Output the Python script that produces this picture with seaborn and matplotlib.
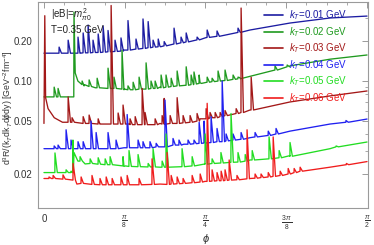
import numpy as np
import pandas as pd
import matplotlib
matplotlib.use("Agg")
import matplotlib.pyplot as plt
import matplotlib.ticker as mticker
import seaborn as sns

# ---------------- data ----------------
labels = ["$k_T$=0.01 GeV", "$k_T$=0.02 GeV", "$k_T$=0.03 GeV",
          "$k_T$=0.04 GeV", "$k_T$=0.05 GeV", "$k_T$=0.06 GeV"]
colors = ["#1c1ca2", "#1f9a1f", "#a31818", "#2020f0", "#22dd22", "#f01c1c"]

# smooth background of each curve (phi, value)
s1_phi = [0, 0.175, 0.389, 0.564, 0.783, 1.002, 1.196, 1.391, 1.571]
s1_val = [0.162, 0.162, 0.171, 0.183, 0.211, 0.242, 0.273, 0.298, 0.308]
s2_phi = [0, 0.145, 0.146, 0.152, 0.165, 0.195, 0.25, 0.389, 0.564, 0.759, 0.953, 1.196, 1.391, 1.571]
s2_val = [0.076, 0.076, 0.33, 0.115, 0.100, 0.092, 0.089, 0.086, 0.090, 0.097, 0.106, 0.130, 0.146, 0.157]
s3_phi = [0, 0.004, 0.008, 0.02, 0.05, 0.09, 0.272, 0.418, 0.564, 0.759, 1.002, 1.196, 1.391, 1.571]
s3_val = [0.048, 0.31, 0.075, 0.062, 0.053, 0.049, 0.0475, 0.0475, 0.048, 0.052, 0.0606, 0.0696, 0.0773, 0.0842]
s4_phi = [0, 0.389, 0.564, 0.68, 0.783, 1.002, 1.196, 1.391, 1.571]
s4_val = [0.031, 0.0315, 0.032, 0.0335, 0.0345, 0.0375, 0.042, 0.0475, 0.0518]
s5_phi = [0, 0.140, 0.141, 0.146, 0.165, 0.20, 0.389, 0.564, 0.783, 1.002, 1.196, 1.391, 1.571]
s5_val = [0.0205, 0.0205, 0.036, 0.029, 0.025, 0.0238, 0.0228, 0.0225, 0.0238, 0.0255, 0.0275, 0.031, 0.0348]
s6_phi = [0, 0.141, 0.16, 0.389, 0.564, 0.783, 1.002, 1.196, 1.391, 1.571]
s6_val = [0.0185, 0.018, 0.0168, 0.0166, 0.0168, 0.0176, 0.0185, 0.0203, 0.0225, 0.0248]

# resonance spikes: position, local base, peak
k1_phi = [0.073, 0.117, 0.165, 0.190, 0.214, 0.238, 0.263, 0.287, 0.311, 0.345, 0.374, 0.408, 0.447, 0.481, 0.506, 0.530, 0.555, 0.584, 0.632, 0.666, 0.691, 0.744, 0.793, 0.841, 0.943]
k1_base = [0.162, 0.162, 0.162, 0.163, 0.163, 0.164, 0.164, 0.165, 0.166, 0.167, 0.168, 0.171, 0.174, 0.176, 0.178, 0.180, 0.181, 0.184, 0.190, 0.194, 0.197, 0.204, 0.213, 0.217, 0.232]
k1_peak = [0.180, 0.203, 0.214, 0.230, 0.264, 0.203, 0.226, 0.259, 0.240, 0.203, 0.211, 0.285, 0.207, 0.293, 0.280, 0.203, 0.207, 0.198, 0.250, 0.214, 0.230, 0.214, 0.242, 0.238, 0.250]

k2_phi = [0.049, 0.068, 0.185, 0.219, 0.258, 0.311, 0.340, 0.379, 0.408, 0.433, 0.462, 0.496, 0.520, 0.540, 0.569, 0.593, 0.618, 0.647, 0.691, 0.715, 0.729, 0.754, 0.793, 0.817, 0.846, 0.880, 0.919, 0.943, 1.123, 1.182]
k2_base = [0.076, 0.076, 0.094, 0.091, 0.089, 0.088, 0.088, 0.087, 0.086, 0.086, 0.087, 0.087, 0.088, 0.088, 0.089, 0.090, 0.091, 0.092, 0.093, 0.094, 0.095, 0.096, 0.098, 0.099, 0.100, 0.101, 0.103, 0.104, 0.121, 0.128]
k2_peak = [0.090, 0.088, 0.100, 0.102, 0.105, 0.125, 0.107, 0.170, 0.092, 0.098, 0.107, 0.137, 0.100, 0.100, 0.111, 0.111, 0.105, 0.119, 0.128, 0.111, 0.117, 0.111, 0.107, 0.105, 0.119, 0.121, 0.111, 0.107, 0.130, 0.132]

k3_phi = [0.117, 0.136, 0.190, 0.219, 0.263, 0.326, 0.360, 0.384, 0.418, 0.443, 0.477, 0.491, 0.540, 0.574, 0.584, 0.613, 0.647, 0.676, 0.710, 0.744, 0.788, 0.807, 0.832, 0.856, 0.880, 0.934, 0.958, 1.007]
k3_base = [0.049, 0.049, 0.048, 0.048, 0.0475, 0.0475, 0.0475, 0.0475, 0.047, 0.047, 0.047, 0.047, 0.047, 0.0475, 0.0475, 0.048, 0.048, 0.0485, 0.049, 0.050, 0.052, 0.053, 0.053, 0.054, 0.055, 0.057, 0.058, 0.0606]
k3_peak = [0.076, 0.053, 0.054, 0.0555, 0.052, 0.37, 0.0575, 0.066, 0.052, 0.054, 0.088, 0.058, 0.052, 0.055, 0.074, 0.055, 0.075, 0.055, 0.055, 0.057, 0.062, 0.058, 0.058, 0.058, 0.060, 0.062, 0.354, 0.107]

k4_phi = [0.049, 0.068, 0.107, 0.131, 0.165, 0.190, 0.228, 0.253, 0.311, 0.350, 0.404, 0.457, 0.481, 0.515, 0.545, 0.588, 0.627, 0.656, 0.700, 0.729, 0.754, 0.778, 0.812, 0.841, 0.866, 0.885, 0.919, 0.958, 1.026, 1.090, 1.128, 1.468]
k4_base = [0.031, 0.031, 0.031, 0.031, 0.031, 0.031, 0.031, 0.031, 0.031, 0.031, 0.0315, 0.0315, 0.0315, 0.0315, 0.032, 0.032, 0.033, 0.033, 0.0335, 0.0338, 0.034, 0.0342, 0.0345, 0.035, 0.035, 0.0355, 0.036, 0.0365, 0.038, 0.039, 0.040, 0.049]
k4_peak = [0.0325, 0.033, 0.043, 0.036, 0.035, 0.035, 0.050, 0.041, 0.041, 0.036, 0.056, 0.036, 0.035, 0.035, 0.034, 0.072, 0.037, 0.036, 0.036, 0.036, 0.049, 0.050, 0.054, 0.044, 0.100, 0.040, 0.040, 0.041, 0.041, 0.042, 0.044, 0.0505]

k5_phi = [0.053, 0.107, 0.131, 0.175, 0.224, 0.263, 0.297, 0.321, 0.384, 0.413, 0.457, 0.506, 0.530, 0.574, 0.593, 0.671, 0.720, 0.783, 0.817, 0.860, 0.909, 0.943, 0.978, 1.012, 1.094, 1.143, 1.196, 1.42]
k5_base = [0.0205, 0.0205, 0.0205, 0.025, 0.024, 0.0237, 0.0235, 0.0235, 0.023, 0.0228, 0.0227, 0.0226, 0.0226, 0.0225, 0.0225, 0.0227, 0.023, 0.0237, 0.024, 0.0242, 0.0245, 0.0246, 0.025, 0.0255, 0.026, 0.0265, 0.0272, 0.032]
k5_peak = [0.0288, 0.0215, 0.021, 0.027, 0.026, 0.0265, 0.026, 0.027, 0.027, 0.030, 0.028, 0.024, 0.031, 0.025, 0.040, 0.031, 0.027, 0.040, 0.026, 0.029, 0.057, 0.029, 0.028, 0.030, 0.038, 0.030, 0.0345, 0.0325]

k6_phi = [0.024, 0.044, 0.092, 0.141, 0.180, 0.233, 0.272, 0.302, 0.331, 0.374, 0.404, 0.462, 0.525, 0.598, 0.618, 0.647, 0.676, 0.720, 0.759, 0.793, 0.817, 0.841, 0.861, 0.880, 0.900, 0.938, 0.987, 1.026, 1.055, 1.090, 1.114, 1.148, 1.187, 1.216, 1.245, 1.47]
k6_base = [0.0185, 0.0185, 0.0183, 0.018, 0.017, 0.0167, 0.0166, 0.0166, 0.0166, 0.0166, 0.0166, 0.0166, 0.0167, 0.0167, 0.0168, 0.0169, 0.017, 0.0172, 0.0174, 0.0176, 0.0177, 0.0178, 0.0178, 0.0179, 0.018, 0.0181, 0.0184, 0.0186, 0.0188, 0.019, 0.0192, 0.0195, 0.020, 0.0205, 0.021, 0.0235]
k6_peak = [0.019, 0.0195, 0.0197, 0.024, 0.019, 0.0195, 0.0185, 0.019, 0.0185, 0.019, 0.0195, 0.0185, 0.026, 0.029, 0.0195, 0.019, 0.0185, 0.0195, 0.020, 0.068, 0.0215, 0.0205, 0.021, 0.0215, 0.0255, 0.0195, 0.043, 0.020, 0.020, 0.0205, 0.038, 0.021, 0.022, 0.022, 0.0225, 0.024]

xtick_vals = [0, np.pi / 8, np.pi / 4, 3 * np.pi / 8, np.pi / 2]
xtick_labels = ["0", r"$\frac{\pi}{8}$", r"$\frac{\pi}{4}$", r"$\frac{3\,\pi}{8}$", r"$\frac{\pi}{2}$"]
ytick_vals = [0.02, 0.05, 0.10, 0.20]
ytick_labels = ["0.02", "0.05", "0.10", "0.20"]

bases = [(s1_phi, s1_val), (s2_phi, s2_val), (s3_phi, s3_val),
         (s4_phi, s4_val), (s5_phi, s5_val), (s6_phi, s6_val)]
spikes = [(k1_phi, k1_base, k1_peak), (k2_phi, k2_base, k2_peak), (k3_phi, k3_base, k3_peak),
          (k4_phi, k4_base, k4_peak), (k5_phi, k5_base, k5_peak), (k6_phi, k6_base, k6_peak)]

rows = []
for lab, (bp, bv), (sp, sb, sk) in zip(labels, bases, spikes):
    pts = list(zip(bp, bv))
    for p, b, k in zip(sp, sb, sk):
        pts += [(p, b), (p + 0.0006, k), (p + 0.012, b)]
    pts.sort(key=lambda t: t[0])
    for i, (p, v) in enumerate(pts):
        rows.append({"phi": p, "val": v, "series": lab, "order": i})
df = pd.DataFrame(rows)

# ---------------- plotting ----------------
sns.set_theme(style="white")
plt.rcParams['font.family'] = ['Liberation Sans', 'DejaVu Sans']
plt.rcParams['mathtext.fontset'] = 'custom'
plt.rcParams['mathtext.rm'] = 'Liberation Sans'
plt.rcParams['mathtext.it'] = 'Liberation Sans:italic'
plt.rcParams['mathtext.bf'] = 'Liberation Sans:bold'

fig = plt.figure(figsize=(3.74, 2.45), dpi=100)
ax = fig.add_axes([38 / 374, 1 - 208 / 245, 330 / 374, 206 / 245])

sns.lineplot(data=df, x="phi", y="val", hue="series", palette=dict(zip(labels, colors)),
             hue_order=labels, sort=False, estimator=None, units="series",
             linewidth=0.95, legend=False, ax=ax)

ax.set_yscale("log")
ax.set_xlim(-0.029, 1.5757)
ax.set_ylim(0.0111, 0.393)

ax.set_xticks(xtick_vals)
ax.set_xticklabels(xtick_labels)
ax.xaxis.set_minor_locator(mticker.MultipleLocator(np.pi / 32))
ax.set_yticks(ytick_vals)
ax.set_yticklabels(ytick_labels)
ax.yaxis.set_minor_formatter(mticker.NullFormatter())

frame = "#9a9a9a"
for s in ax.spines.values():
    s.set_color(frame)
    s.set_linewidth(0.8)
ax.tick_params(which="both", direction="in", top=True, right=True, color=frame,
               labelcolor="#333333", labelsize=7)
ax.tick_params(which="major", length=4, width=0.7)
ax.tick_params(which="minor", length=2, width=0.6)
ax.tick_params(axis="y", pad=4)
ax.tick_params(axis="x", pad=4)

ax.set_xlabel("")
ax.set_ylabel("")
fig.text(206 / 374, 1 - 239 / 245, r"$\phi$", fontsize=8, color="#333333",
         ha="center", va="center")
fig.text(8 / 374, 1 - 108 / 245, r"d$^3$R/(k$_T$dk$_T$d$\phi$dy) [GeV$^{-2}$fm$^{-4}$]",
         fontsize=6.3, color="#333333", rotation=90, ha="center", va="center")

ax.text(0.04, 0.94, r"|eB|=$m_{\pi0}^2$", transform=ax.transAxes, fontsize=7,
        color="#222222", ha="left", va="center")
ax.text(0.04, 0.866, "T=0.35 GeV", transform=ax.transAxes, fontsize=7,
        color="#222222", ha="left", va="center")

handles = ax.get_lines()[:6]
leg = ax.legend(handles, labels, loc="upper left", bbox_to_anchor=(0.685, 0.968),
                frameon=False, fontsize=7, borderpad=0, borderaxespad=0,
                handlelength=1.9, handletextpad=0.7, labelspacing=0.28)
for t, c in zip(leg.get_texts(), colors):
    t.set_color(c)
for h in leg.get_lines():
    h.set_linewidth(1.2)

fig.savefig("out.png", dpi=100)
